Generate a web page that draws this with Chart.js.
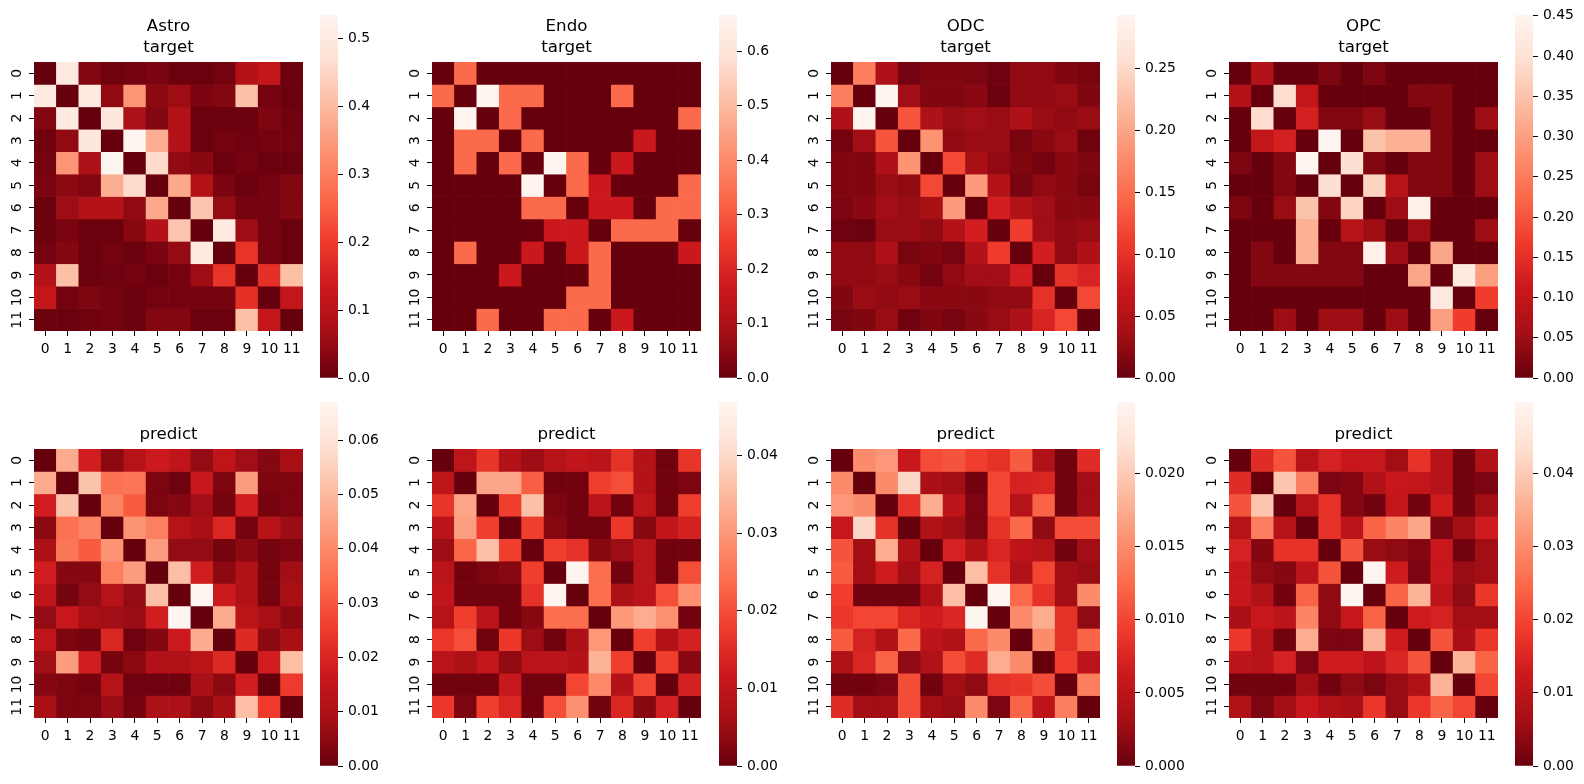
<!DOCTYPE html>
<html>
<head>
<meta charset="utf-8">
<script src="https://cdn.jsdelivr.net/npm/chart.js"></script>
<style>
html,body{margin:0;padding:0;background:#fff;width:1584px;height:784px;overflow:hidden;position:relative}
canvas{position:absolute}
</style>
</head>
<body>
<script>
// ---------------- DATA ----------------
const rowLabels = ['0','1','2','3','4','5','6','7','8','9','10','11'];
const colLabels = ['0','1','2','3','4','5','6','7','8','9','10','11'];

const astroTarget = [
 [0,0.50,0.03,0.01,0.015,0.02,0.005,0.005,0.015,0.09,0.12,0.005],
 [0.50,0,0.50,0.045,0.34,0.04,0.06,0.02,0.03,0.41,0.015,0.005],
 [0.03,0.50,0,0.49,0.08,0.03,0.09,0.005,0.005,0.005,0.025,0.01],
 [0.01,0.045,0.49,0,0.535,0.38,0.09,0.005,0.015,0.008,0.015,0.015],
 [0.015,0.34,0.08,0.535,0,0.46,0.045,0.035,0.005,0.015,0.005,0.005],
 [0.02,0.04,0.03,0.38,0.46,0,0.37,0.09,0.02,0.005,0.015,0.03],
 [0.005,0.06,0.09,0.09,0.045,0.37,0,0.42,0.05,0.015,0.015,0.03],
 [0.005,0.02,0.005,0.005,0.035,0.09,0.42,0,0.50,0.06,0.015,0.005],
 [0.015,0.03,0.005,0.015,0.005,0.02,0.05,0.50,0,0.185,0.015,0.005],
 [0.09,0.41,0.005,0.008,0.015,0.005,0.015,0.06,0.185,0,0.18,0.41],
 [0.12,0.015,0.025,0.015,0.005,0.015,0.015,0.015,0.015,0.18,0,0.12],
 [0.005,0.005,0.01,0.015,0.005,0.03,0.03,0.005,0.005,0.41,0.12,0]
];
const endoTarget = [
 [0,0.333,0,0,0,0,0,0,0,0,0,0],
 [0.333,0,0.667,0.333,0.333,0,0,0,0.333,0,0,0],
 [0,0.667,0,0.333,0,0,0,0,0,0,0,0.333],
 [0,0.333,0.333,0,0.333,0,0,0,0,0.167,0,0],
 [0,0.333,0,0.333,0,0.667,0.333,0,0.167,0,0,0],
 [0,0,0,0,0.667,0,0.333,0.167,0,0,0,0.333],
 [0,0,0,0,0.333,0.333,0,0.167,0.167,0,0.333,0.333],
 [0,0,0,0,0,0.167,0.167,0,0.333,0.333,0.333,0],
 [0,0.333,0,0,0.167,0,0.167,0.333,0,0,0,0.167],
 [0,0,0,0.167,0,0,0,0.333,0,0,0,0],
 [0,0,0,0,0,0,0.333,0.333,0,0,0,0],
 [0,0,0.333,0,0,0.333,0.333,0,0.167,0,0,0]
];
const odcTarget = [
 [0,0.165,0.045,0.008,0.015,0.015,0.012,0.005,0.025,0.025,0.015,0.01],
 [0.165,0,0.293,0.035,0.015,0.015,0.02,0.003,0.025,0.025,0.03,0.015],
 [0.045,0.293,0,0.13,0.045,0.03,0.035,0.03,0.045,0.03,0.025,0.03],
 [0.008,0.035,0.13,0,0.185,0.025,0.03,0.03,0.01,0.02,0.03,0.005],
 [0.015,0.015,0.045,0.185,0,0.12,0.04,0.025,0.015,0.008,0.02,0.015],
 [0.015,0.015,0.03,0.025,0.12,0,0.19,0.05,0.01,0.025,0.02,0.01],
 [0.012,0.02,0.035,0.03,0.04,0.19,0,0.08,0.05,0.035,0.02,0.02],
 [0.005,0.003,0.03,0.03,0.025,0.05,0.08,0,0.11,0.035,0.025,0.03],
 [0.025,0.025,0.045,0.01,0.015,0.01,0.05,0.11,0,0.08,0.025,0.045],
 [0.025,0.025,0.03,0.02,0.008,0.025,0.035,0.035,0.08,0,0.1,0.085],
 [0.015,0.03,0.025,0.03,0.02,0.02,0.02,0.025,0.025,0.1,0,0.12],
 [0.01,0.015,0.03,0.005,0.015,0.01,0.02,0.03,0.045,0.085,0.12,0]
];
const opcTarget = [
 [0,0.075,0,0,0.02,0,0.02,0,0,0,0,0],
 [0.075,0,0.39,0.1,0,0,0,0,0.025,0.025,0,0],
 [0,0.39,0,0.125,0.025,0.025,0.045,0,0,0.025,0,0.05],
 [0,0.1,0.125,0,0.451,0,0.35,0.325,0.325,0.025,0,0],
 [0.02,0,0.025,0.451,0,0.395,0.025,0,0.025,0.025,0,0.05],
 [0,0,0.025,0,0.395,0,0.375,0.08,0.025,0.025,0,0.05],
 [0.02,0,0.045,0.35,0.025,0.375,0,0.05,0.44,0,0,0],
 [0,0,0,0.325,0,0.08,0.05,0,0.05,0,0,0.05],
 [0,0.025,0,0.325,0.025,0.025,0.44,0.05,0,0.31,0,0],
 [0,0.025,0.025,0.025,0.025,0.025,0,0,0.31,0,0.42,0.3],
 [0,0,0,0,0,0,0,0,0,0.42,0,0.17],
 [0,0,0.05,0,0.05,0.05,0,0.05,0,0.3,0.17,0]
];
const astroPredict = [
 [0,0.047,0.018,0.005,0.012,0.017,0.014,0.006,0.014,0.008,0.004,0.009],
 [0.047,0,0.052,0.035,0.036,0.003,0.001,0.016,0.003,0.044,0.003,0.003],
 [0.018,0.052,0,0.039,0.031,0.003,0.004,0.008,0.002,0.018,0.002,0.003],
 [0.005,0.035,0.039,0,0.042,0.038,0.012,0.009,0.02,0.002,0.012,0.007],
 [0.01,0.036,0.031,0.042,0,0.044,0.006,0.006,0.002,0.005,0.002,0.003],
 [0.018,0.004,0.004,0.038,0.044,0,0.051,0.018,0.005,0.011,0.002,0.008],
 [0.014,0.002,0.006,0.012,0.006,0.051,0,0.067,0.017,0.011,0.002,0.009],
 [0.006,0.016,0.009,0.008,0.007,0.018,0.067,0,0.047,0.013,0.009,0.005],
 [0.014,0.003,0.002,0.02,0.001,0.004,0.017,0.047,0,0.021,0.005,0.009],
 [0.008,0.044,0.018,0.002,0.005,0.011,0.011,0.013,0.021,0,0.018,0.051],
 [0.004,0.003,0.002,0.012,0.001,0.001,0.001,0.009,0.005,0.018,0,0.025],
 [0.009,0.003,0.003,0.007,0.002,0.01,0.01,0.005,0.009,0.051,0.025,0]
];
const endoPredict = [
 [0,0.0095,0.0165,0.008,0.005,0.0085,0.01,0.009,0.016,0.008,0.001,0.0165],
 [0.0095,0,0.032,0.032,0.022,0.001,0.001,0.018,0.02,0.008,0.001,0.002],
 [0.0165,0.032,0,0.018,0.036,0.002,0.001,0.009,0.001,0.0095,0.001,0.018],
 [0.009,0.031,0.018,0,0.018,0.003,0.001,0.001,0.017,0.003,0.01,0.013],
 [0.005,0.023,0.036,0.018,0,0.018,0.016,0.003,0.005,0.009,0.001,0.001],
 [0.009,0.001,0.002,0.003,0.018,0,0.0469,0.024,0.001,0.009,0.001,0.02],
 [0.01,0.001,0.001,0.001,0.016,0.0469,0,0.024,0.007,0.009,0.02,0.029],
 [0.0085,0.018,0.009,0.001,0.003,0.024,0.024,0,0.03,0.033,0.029,0.001],
 [0.017,0.02,0.001,0.017,0.005,0.001,0.007,0.03,0,0.018,0.008,0.013],
 [0.009,0.007,0.0105,0.004,0.009,0.009,0.008,0.034,0.018,0,0.018,0.003],
 [0.001,0.001,0.001,0.011,0.001,0.001,0.019,0.028,0.008,0.019,0,0.013],
 [0.017,0.002,0.018,0.014,0.001,0.02,0.029,0.001,0.014,0.003,0.013,0]
];
const odcPredict = [
 [0,0.015,0.016,0.006,0.0105,0.011,0.0095,0.0085,0.0115,0.004,0.0005,0.008],
 [0.015,0,0.015,0.021,0.0035,0.003,0.0005,0.01,0.007,0.0075,0.0005,0.003],
 [0.016,0.015,0,0.0085,0.0175,0.005,0.001,0.01,0.0045,0.012,0.0005,0.003],
 [0.006,0.021,0.0085,0,0.004,0.003,0.001,0.0085,0.0125,0.002,0.0105,0.0105],
 [0.011,0.003,0.0175,0.004,0,0.007,0.004,0.0075,0.005,0.0045,0.0005,0.003],
 [0.0115,0.003,0.0065,0.003,0.007,0,0.019,0.0085,0.004,0.01,0.003,0.0025],
 [0.0095,0.0005,0.0005,0.0005,0.004,0.019,0,0.0249,0.0125,0.0085,0.003,0.015],
 [0.009,0.01,0.01,0.0075,0.0065,0.0075,0.0249,0,0.015,0.0175,0.0085,0.002],
 [0.0115,0.007,0.004,0.0125,0.005,0.004,0.0125,0.015,0,0.015,0.0085,0.012],
 [0.004,0.0075,0.012,0.002,0.004,0.0105,0.008,0.0175,0.015,0,0.0095,0.005],
 [0.0005,0.0005,0.001,0.0105,0.0005,0.003,0.002,0.0085,0.009,0.0105,0,0.014],
 [0.008,0.003,0.003,0.0105,0.003,0.0025,0.015,0.001,0.012,0.005,0.014,0]
];
const opcPredict = [
 [0,0.016,0.022,0.009,0.014,0.012,0.0115,0.006,0.017,0.009,0.001,0.008],
 [0.016,0,0.039,0.028,0.002,0.003,0.008,0.012,0.011,0.009,0.001,0.002],
 [0.022,0.039,0,0.009,0.017,0.003,0.001,0.011,0.001,0.013,0.001,0.006],
 [0.009,0.028,0.009,0,0.017,0.01,0.024,0.029,0.034,0.002,0.006,0.013],
 [0.014,0.003,0.017,0.017,0,0.022,0.005,0.004,0.003,0.012,0.001,0.006],
 [0.012,0.004,0.003,0.01,0.022,0,0.0497,0.013,0.002,0.012,0.005,0.006],
 [0.012,0.008,0.001,0.024,0.004,0.0497,0,0.024,0.036,0.01,0.004,0.018],
 [0.007,0.012,0.01,0.029,0.004,0.012,0.024,0,0.013,0.014,0.006,0.006],
 [0.018,0.009,0.001,0.035,0.002,0.002,0.036,0.013,0,0.022,0.007,0.018],
 [0.01,0.009,0.014,0.002,0.013,0.013,0.01,0.015,0.022,0,0.036,0.024],
 [0.001,0.001,0.001,0.006,0.001,0.004,0.002,0.005,0.008,0.036,0,0.02],
 [0.008,0.002,0.006,0.012,0.008,0.007,0.018,0.005,0.018,0.024,0.02,0]
];

const titles = [['Astro','target'],['Endo','target'],['ODC','target'],['OPC','target'],
                'predict','predict','predict','predict'];
const matrices = [astroTarget, endoTarget, odcTarget, opcTarget,
                  astroPredict, endoPredict, odcPredict, opcPredict];
const cbarSteps = [0.1, 0.1, 0.05, 0.05, 0.01, 0.01, 0.005, 0.01];
const cbarDecimals = [1, 1, 2, 2, 2, 2, 3, 2];

// ---------------- STYLE / LAYOUT ----------------
const FONT = 'DejaVu Sans';
Chart.defaults.font.family = FONT;
Chart.defaults.color = '#000';
const REDS_R = ['#67000d','#a50f15','#cb181d','#ef3b2c','#fb6a4a','#fc9272','#fcbba1','#fee0d2','#fff5f0'];
function hexRgb(h){return [parseInt(h.slice(1,3),16),parseInt(h.slice(3,5),16),parseInt(h.slice(5,7),16)];}
const STOPS = REDS_R.map(hexRgb);
function cmap(t){
  t = Math.min(1, Math.max(0, t));
  const x = t * 8; const i = Math.min(7, Math.floor(x)); const f = x - i;
  const a = STOPS[i], b = STOPS[i+1];
  return 'rgb(' + a.map((c,k)=>Math.round(c + (b[k]-c)*f)).join(',') + ')';
}

const heatLeft = [34, 432, 831, 1229];
const cbLeft = [320, 719, 1117, 1515];
const CELLS = 269, YAXW = 34, RPAD = 12;
const rowsCfg = [
  {top: 0, h: 385, padTop: 16.5, xAxisH: 54, cbTop: 0, cbH: 393},
  {top: 385, h: 385, padTop: 39.5, xAxisH: 52, cbTop: 387, cbH: 394}
];

function makeCanvas(left, top, w, h){
  const c = document.createElement('canvas');
  c.width = w; c.height = h;
  c.style.left = left + 'px'; c.style.top = top + 'px';
  c.style.width = w + 'px'; c.style.height = h + 'px';
  document.body.appendChild(c);
  return c;
}

const tickFont = {family: FONT, size: 13.9};
const tickGrid = {drawOnChartArea: false, drawTicks: true, tickLength: 5, tickColor: '#000', tickWidth: 1};

matrices.forEach((m, p) => {
  const col = p % 4, rc = rowsCfg[Math.floor(p / 4)];
  const vmax = Math.max(...m.flat());
  const datasets = rowLabels.map((r, i) => ({
    label: r,
    data: colLabels.map(() => 1),
    backgroundColor: m[i].map(v => cmap(v / vmax)),
    borderWidth: 0,
    barPercentage: 1,
    categoryPercentage: 1
  }));
  const cv = makeCanvas(heatLeft[col] - YAXW, rc.top, YAXW + CELLS + RPAD, rc.h);
  new Chart(cv, {
    type: 'bar',
    data: {labels: colLabels, datasets},
    options: {
      responsive: false, animation: false, events: [],
      layout: {padding: {left: 0, right: RPAD, top: 0, bottom: 0}},
      plugins: {
        legend: {display: false}, tooltip: {enabled: false},
        title: {display: true, text: titles[p], fullSize: false, color: '#000',
          font: {family: FONT, size: 16.67, weight: 'normal', lineHeight: '21px'},
          padding: {top: rc.padTop, bottom: 3.5}}
      },
      scales: {
        x: {stacked: true, grid: Object.assign({offset: false}, tickGrid), border: {display: false},
            ticks: {font: tickFont, color: '#000', padding: 5, maxRotation: 0, minRotation: 0, autoSkip: false},
            afterFit: s => { s.height = rc.xAxisH; }},
        y: {stacked: true, reverse: true, min: 0, max: rowLabels.length,
            grid: tickGrid, border: {display: false},
            afterBuildTicks: s => { s.ticks = rowLabels.map((_, i) => ({value: i + 0.5})); },
            ticks: {font: tickFont, color: '#000', padding: 2.5, minRotation: 90, maxRotation: 90,
                    crossAlign: 'center', autoSkip: false, callback: (v, i) => rowLabels[i]},
            afterFit: s => { s.width = YAXW; }}
      }
    }
  });

  // colour bar
  const cb = makeCanvas(cbLeft[col], rc.cbTop, 80, rc.cbH);
  new Chart(cb, {
    type: 'bar',
    data: {labels: [''], datasets: [{
      data: [vmax], borderWidth: 0, barPercentage: 1, categoryPercentage: 1,
      backgroundColor: (ctx) => {
        const ca = ctx.chart.chartArea;
        if (!ca) return REDS_R[0];
        const g = ctx.chart.ctx.createLinearGradient(0, ca.bottom, 0, ca.top);
        REDS_R.forEach((c, i) => g.addColorStop(i / 8, c));
        return g;
      }
    }]},
    options: {
      responsive: false, animation: false, events: [],
      layout: {padding: {left: 0, right: 0, top: 15, bottom: 15}},
      plugins: {legend: {display: false}, tooltip: {enabled: false}},
      scales: {
        x: {display: false},
        y: {position: 'right', min: 0, max: vmax, grid: tickGrid, border: {display: false},
            ticks: {font: tickFont, color: '#000', padding: 5, stepSize: cbarSteps[p], includeBounds: false,
                    callback: v => v.toFixed(cbarDecimals[p])},
            afterFit: s => { s.width = 62; }}
      }
    }
  });
});
</script>
</body>
</html>
